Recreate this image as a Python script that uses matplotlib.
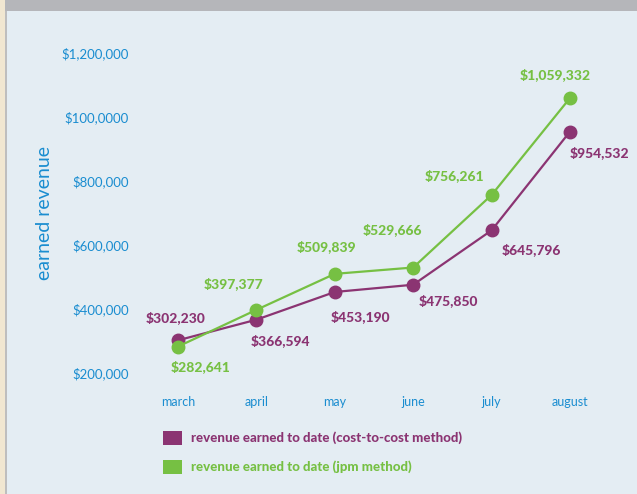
import matplotlib
matplotlib.use("Agg")
import matplotlib.pyplot as plt
from matplotlib.patches import Rectangle

# data
months = ["march", "april", "may", "june", "july", "august"]
cost_to_cost = [302230, 366594, 453190, 475850, 645796, 954532]
jpm = [282641, 397377, 509839, 529666, 756261, 1059332]
ytick_vals = [200000, 400000, 600000, 800000, 1000000, 1200000]
ytick_labels = ["$200,000", "$400,000", "$600,000", "$800,000", "$100,0000", "$1,200,000"]
legend_labels = ["revenue earned to date (cost-to-cost method)",
                 "revenue earned to date (jpm method)"]

# label offsets from each marker, pixels (x right, y up)
purple_off = [(-2, 23), (24, -21), (26, -25), (35, -16), (40, -19), (29, -21)]
green_off = [(23, -20), (-23, 26), (-8, 27), (-21, 38), (-37, 19), (-15, 23)]

purple = "#8B3472"
green = "#76C043"
blue = "#1A8DD0"
bg = "#E4EDF3"

plt.rcParams['font.family'] = ['Lato', 'DejaVu Sans']

W, H = 637, 494
fig = plt.figure(figsize=(W / 100, H / 100), dpi=100)
fig.patch.set_facecolor(bg)

# frame decorations: gray top bar, beige left strip
fig.patches.append(Rectangle((0, 1 - 11 / H), 1, 11 / H, transform=fig.transFigure,
                             facecolor="#B5B6BA", edgecolor="none"))
fig.patches.append(Rectangle((0, 0), 5 / W, 1, transform=fig.transFigure,
                             facecolor="#F1E7D1", edgecolor="none"))
fig.patches.append(Rectangle((5 / W, 0), 2 / W, 1 - 11 / H, transform=fig.transFigure,
                             facecolor="#BEBEBE", edgecolor="none"))

# axes: left 140px .. right 612px, top 40px .. bottom 390px
ax = fig.add_axes([140 / W, 104 / H, 472 / W, 350 / H])
ax.set_facecolor(bg)
x = list(range(len(months)))
step = 78.4
ax.set_xlim(-(178 - 140) / step, 5 + (612 - 570) / step)
ax.set_ylim(200000 - 17 / 320 * 1e6, 1200000 + 13 / 320 * 1e6)

ax.plot(x, cost_to_cost, color=purple, lw=1.6, marker="o", ms=9, zorder=3)
ax.plot(x, jpm, color=green, lw=1.6, marker="o", ms=9, zorder=3)

for i, v in enumerate(cost_to_cost):
    ax.annotate(f"${v:,}", (i, v), xytext=purple_off[i], textcoords="offset pixels",
                ha="center", va="center", color=purple, fontsize=10, fontweight="black")
for i, v in enumerate(jpm):
    ax.annotate(f"${v:,}", (i, v), xytext=green_off[i], textcoords="offset pixels",
                ha="center", va="center", color=green, fontsize=10, fontweight="black")

ax.set_yticks(ytick_vals)
ax.set_yticklabels(ytick_labels)
ax.set_xticks(x)
ax.set_xticklabels(months)
ax.tick_params(axis="both", length=0, colors=blue, labelsize=9.5)
ax.tick_params(axis="y", pad=8)
ax.tick_params(axis="x", pad=4, labelsize=9)
for s in ax.spines.values():
    s.set_visible(False)

fig.text(45 / W, 1 - 213 / H, "earned revenue", rotation=90, color=blue,
         fontsize=14, ha="center", va="center")

# legend
for k, (lab, col) in enumerate(zip(legend_labels, [purple, green])):
    ytop = 431 + 29 * k
    fig.patches.append(Rectangle((163 / W, 1 - (ytop + 14) / H), 19 / W, 14 / H,
                                 transform=fig.transFigure, facecolor=col, edgecolor="none"))
    fig.text(191 / W, 1 - (ytop + 7) / H, lab, color=col, fontsize=9.5,
             fontweight="black", ha="left", va="center")

fig.savefig("out.png", dpi=100, facecolor=bg)
